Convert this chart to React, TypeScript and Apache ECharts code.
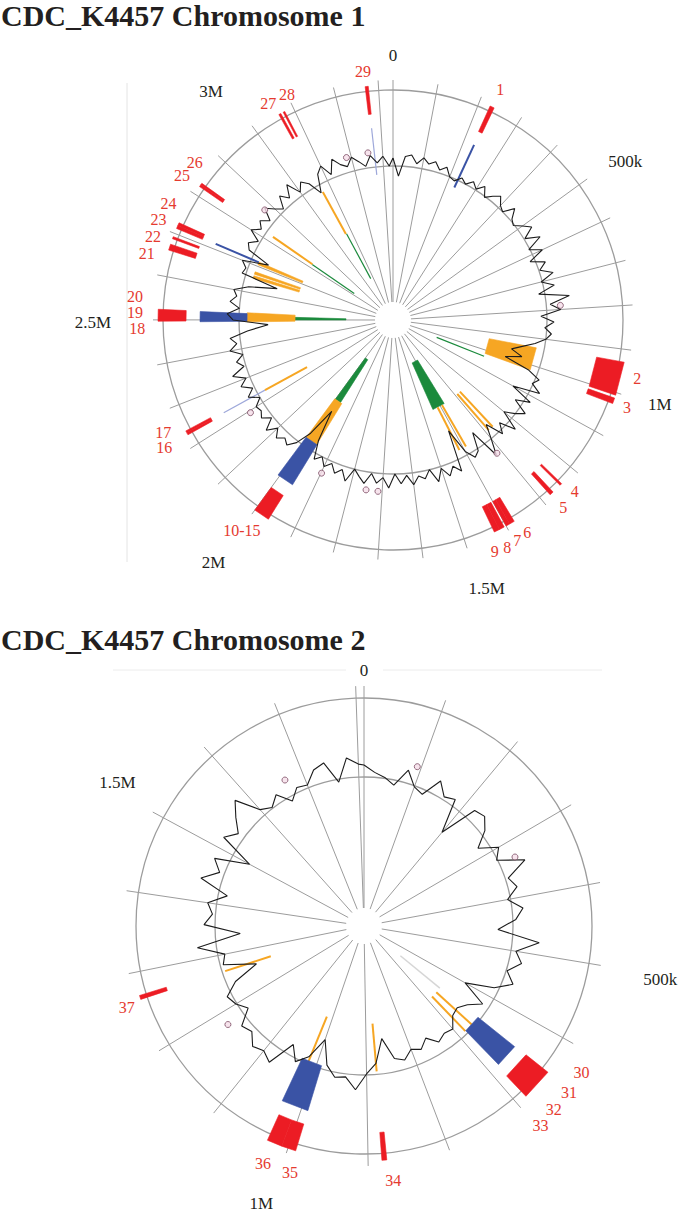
import React, { useEffect, useRef } from "react";
import * as echarts from "echarts";

// ---------------- data ----------------
const chr1LengthKb = 3333;
const chr2LengthKb = 1810;
const gcStepKb = 20;

const chr1Spokes = [0, 100, 200, 300, 400, 500, 600, 700, 800, 900, 1000, 1100, 1200, 1300, 1400, 1500, 1600, 1700, 1800, 1900, 2000, 2100, 2200, 2300, 2400, 2500, 2600, 2700, 2800, 2900, 3000, 3100, 3200, 3300];
const chr2Spokes = [0, 100, 200, 300, 400, 500, 600, 700, 800, 900, 1000, 1100, 1200, 1300, 1400, 1500, 1600, 1700, 1800];

const chr1TickLabels = ["0", "500k", "1M", "1.5M", "2M", "2.5M", "3M"];
const chr2TickLabels = ["0", "500k", "1M", "1.5M"];

// GC content deviation (px-scaled units) every 20 kb
const chr1Gc = [
  10, -8, 12, 14, 6, 13, 8, 12, 5, 10,
  2, 0, 6, 2, 8, 3, 10, 1, 7, 12,
  5, 2, 13, 4, 1, 8, 15, 3, 17, 1,
  13, -3, 11, 3, 15, 1, 13, -4, 26, 6,
  16, -4, 9, 0, 7, 2, -8, -20, -30, -18,
  -34, -8, 6, 1, 12, -15, 8, -6, 10, 2,
  -8, 12, -4, 6, -12, 2, 18, -14, 4, 8,
  -2, -28, 14, 6, 14, 4, 16, 2, 10, 6,
  14, 4, 12, 2, 16, 6, 12, 3, 14, 8,
  2, 16, 6, 12, 4, 10, 2, 8, -10, -42,
  -12, 4, 12, 8, 14, 6, 16, 4, 12, 8,
  10, 2, 12, 4, 14, 6, 18, 4, 10, 2,
  14, 6, 12, -6, -27, 8, 14, 2, 12, 6,
  10, -4, -32, 6, 4, 10, -16, 8, 12, 4,
  16, 8, 14, 6, 18, 10, 4, 16, 8, 20,
  6, 14, 8, -6, 12, 18, 6, 20, 12, 8,
  16, 10, 4, 14, 6, 12, 2,
];
const chr2Gc = [
  11, 4, 0, -6, 12, -2, -6, 14, 2, 6,
  -28, 10, 13, 4, -12, 6, -2, 24, 2, 8,
  -4, 10, 2, -16, 26, 4, 12, 0, 10, -6,
  -34, -8, -20, -26, -24, -14, -16, -12, -22, -14,
  -18, -10, -14, -36, -12, -2, 14, 2, 4, -6,
  -30, -8, 2, -12, 16, 10, 14, 4, 8, -8,
  0, 4, -10, -36, -4, -8, 18, -26, 10, 2,
  8, -10, 20, 4, 14, -20, 16, 6, 18, 30,
  6, 0, 8, -6, 4, 2, 14, 18, -4, 19,
  12,
];

const chr1MarkerPos = [787, 1315, 1713, 1750, 1898, 2194, 2876, 3185, 3254];
const chr1MarkerGc = [16, 17, 20, 20, 17, 18, 17, 17, 17];
const chr2MarkerPos = [93, 329, 1177, 1667];
const chr2MarkerGc = [18, 16, 18, 16];

// features [start kb, end kb]
const chr1Red: [number, number][] = [
  [226, 236], [929, 1006], [1013, 1026], [1242, 1247], [1269, 1278],
  [1379, 1391], [1391, 1400], [1405, 1417], [1417, 1430], [1963, 2000],
  [2229, 2234], [2234, 2239], [2497, 2524], [2660, 2674], [2687, 2692],
  [2712, 2719], [2719, 2726], [2820, 2825], [2825, 2829], [3064, 3069],
  [3075, 3079], [3270, 3277],
];
const chr1Blue: [number, number][] = [[1957, 2005], [2495, 2523]];
const chr1BlueThin = [230, 2715];
const chr1BlueFaint = [3274, 2234];
const chr1Orange: [number, number][] = [[935, 1018], [1958, 2004], [2493, 2526], [2706, 2716], [2669, 2678], [2653, 2663]];
const chr1OrangeThin = [1268, 1287, 1389, 1416, 2234, 2821, 3067];
const chr1Green: [number, number][] = [[1375, 1444], [1967, 2000], [2500, 2514]];
const chr1GreenThin = [1034, 2819, 3071];

const chr2Red: [number, number][] = [[646, 686], [877, 883], [990, 1008], [1008, 1027], [1266, 1271]];
const chr2Blue: [number, number][] = [[647, 683], [990, 1031]];
const chr2OrangeThin = [666, 684, 880, 1017, 1267];
const chr2GreenFaint = [650];

const chr1RedLabels = ["29", "1", "27", "28", "25", "26", "24", "23", "22", "21", "20", "19", "18", "17", "16", "10-15", "9", "8", "7", "6", "5", "4", "3", "2"];
const chr1RedLabelPos = [3269, 231, 3056, 3100, 2819, 2855, 2754, 2714, 2677, 2640, 2547, 2516, 2483, 2258, 2230, 1997, 1447, 1420, 1394, 1367, 1275, 1235, 1024, 957];
const chr2RedLabels = ["30", "31", "32", "33", "34", "35", "36", "37"];
const chr2RedLabelPos = [623, 649, 674, 696, 872, 989, 1021, 1262];

// ---------------- layout & style ----------------
const POLAR_R = 240;
const SPOKE_R: [number, number] = [18, 240];
const TRACK: Record<string, [number, number]> = {
  red: [207, 235],
  blue: [146, 193],
  orange: [98, 146],
  green: [47, 98],
};
const CHR1 = { center: [393, 320], rOuter: 230, rInner: 154, gcBase: 152 };
const CHR2 = { center: [364, 926], rOuter: 228, rInner: 149, gcBase: 150 };
const chr1TickAnchor = [[0, 265], [516, 281], [996, 280], [1488, 284], [2004, 302], [2496, 300], [2976, 292]];
const chr2TickAnchor = [[0, 256], [504, 301], [1007, 296], [1509, 285]];
const chr1RedLabelR = [250, 254, 250, 249, 256, 253, 253, 255, 254, 255, 259, 258, 256, 256, 262, 259, 253, 255, 253, 251, 253, 250, 250, 251];
const chr2RedLabelR = [262, 264, 264, 266, 256, 257, 258, 251];
const LABEL_FONT = 16;
const TICK_FONT = 17;

const C_RED = "#ec1c24";
const C_RED_TEXT = "#e53a2f";
const C_BLUE = "#3a53a5";
const C_BLUE_FAINT = "#9ea8da";
const C_ORANGE = "#f6a623";
const C_GREEN = "#1b8a3c";
const C_GRAY_FAINT = "#d6d6d6";
const C_GRID = "#9c9c9c";
const C_TEXT = "#231f20";
const SERIF = '"Liberation Serif", "Times New Roman", serif';

// ---------------- series builders ----------------
function circleSeries(pi: number, radii: number[]) {
  return {
    type: "custom", coordinateSystem: "polar", polarIndex: pi, clip: false, silent: true, z: 1,
    data: radii.map((r) => [r]),
    renderItem: (params: any, api: any) => {
      const r = api.value(0);
      const c = api.coord([0, 0]);
      const e = api.coord([r, 0]);
      return {
        type: "circle",
        shape: { cx: c[0], cy: c[1], r: Math.hypot(e[0] - c[0], e[1] - c[1]) },
        style: { fill: "none", stroke: C_GRID, lineWidth: 1.3 },
      };
    },
  };
}

function radialLineSeries(pi: number, positions: number[], range: [number, number], color: string, width: number, z: number) {
  return {
    type: "custom", coordinateSystem: "polar", polarIndex: pi, clip: false, silent: true, z,
    data: positions.map((p) => [p]),
    renderItem: (params: any, api: any) => {
      const p = api.value(0);
      const a = api.coord([range[0], p]);
      const b = api.coord([range[1], p]);
      return {
        type: "line",
        shape: { x1: a[0], y1: a[1], x2: b[0], y2: b[1] },
        style: { stroke: color, lineWidth: width },
      };
    },
  };
}

function blockSeries(pi: number, blocks: [number, number][], range: [number, number], color: string, z: number) {
  return {
    type: "custom", coordinateSystem: "polar", polarIndex: pi, clip: false, silent: true, z,
    data: blocks.map((b) => [b[0], b[1]]),
    renderItem: (params: any, api: any) => {
      const s = api.value(0);
      const e = api.value(1);
      const pts = [api.coord([range[0], s]), api.coord([range[1], s]), api.coord([range[1], e]), api.coord([range[0], e])];
      return { type: "polygon", shape: { points: pts }, style: { fill: color, stroke: color, lineWidth: 0.6 } };
    },
  };
}

function gcSeries(pi: number, values: number[], base: number, length: number) {
  const pts = values.map((v, i) => [base + v, i * gcStepKb]);
  pts.push([base + values[0], length]);
  return {
    type: "line", coordinateSystem: "polar", polarIndex: pi, data: pts, symbol: "none",
    silent: true, z: 6, clip: false,
    lineStyle: { color: "#1c1c1c", width: 1.1 },
  };
}

function markerSeries(pi: number, pos: number[], vals: number[], base: number) {
  return {
    type: "scatter", coordinateSystem: "polar", polarIndex: pi, silent: true, z: 7,
    data: pos.map((p, i) => [base + vals[i], p]),
    symbol: "circle", symbolSize: 6,
    itemStyle: { color: "#f5dde8", borderColor: "#7b4a62", borderWidth: 1 },
  };
}

function textSeries(pi: number, texts: string[], pos: number[], radii: number[], color: string, size: number) {
  return {
    type: "custom", coordinateSystem: "polar", polarIndex: pi, clip: false, silent: true, z: 8,
    data: pos.map((p, i) => [p, radii[i]]),
    renderItem: (params: any, api: any) => {
      const pt = api.coord([api.value(1), api.value(0)]);
      return {
        type: "text", x: pt[0], y: pt[1],
        style: { text: texts[params.dataIndex], fill: color, font: `${size}px ${SERIF}`, align: "center", verticalAlign: "middle" },
      };
    },
  };
}

function buildOption() {
  const chromosome = (pi: number, cfg: any, d: any) => [
    radialLineSeries(pi, d.spokes, SPOKE_R, C_GRID, 1, 1),
    circleSeries(pi, [cfg.rOuter, cfg.rInner]),
    ...(d.greenFaint ? [radialLineSeries(pi, d.greenFaint, TRACK.green, C_GRAY_FAINT, 1.5, 2)] : []),
    ...(d.green ? [blockSeries(pi, d.green, TRACK.green, C_GREEN, 2)] : []),
    ...(d.greenThin ? [radialLineSeries(pi, d.greenThin, TRACK.green, C_GREEN, 1.2, 2)] : []),
    ...(d.orange ? [blockSeries(pi, d.orange, TRACK.orange, C_ORANGE, 3)] : []),
    ...(d.orangeThin ? [radialLineSeries(pi, d.orangeThin, TRACK.orange, C_ORANGE, 2, 3)] : []),
    ...(d.blueFaint ? [radialLineSeries(pi, d.blueFaint, TRACK.blue, C_BLUE_FAINT, 1.2, 3)] : []),
    blockSeries(pi, d.blue, TRACK.blue, C_BLUE, 4),
    ...(d.blueThin ? [radialLineSeries(pi, d.blueThin, TRACK.blue, C_BLUE, 2, 4)] : []),
    blockSeries(pi, d.red, TRACK.red, C_RED, 4),
    gcSeries(pi, d.gc, cfg.gcBase, d.length),
    markerSeries(pi, d.markerPos, d.markerGc, cfg.gcBase),
    textSeries(pi, d.tickLabels, d.tickAnchor.map((a: number[]) => a[0]), d.tickAnchor.map((a: number[]) => a[1]), C_TEXT, TICK_FONT),
    textSeries(pi, d.redLabels, d.redLabelPos, d.redLabelR, C_RED_TEXT, LABEL_FONT),
  ];

  return {
    animation: false,
    backgroundColor: "#ffffff",
    polar: [
      { center: CHR1.center, radius: POLAR_R },
      { center: CHR2.center, radius: POLAR_R },
    ],
    angleAxis: [
      { polarIndex: 0, type: "value", min: 0, max: chr1LengthKb, startAngle: 90, clockwise: true, show: false },
      { polarIndex: 1, type: "value", min: 0, max: chr2LengthKb, startAngle: 90, clockwise: true, show: false },
    ],
    radiusAxis: [
      { polarIndex: 0, type: "value", min: 0, max: POLAR_R, show: false },
      { polarIndex: 1, type: "value", min: 0, max: POLAR_R, show: false },
    ],
    graphic: [
      { type: "text", x: 1, y: 15, style: { text: "CDC_K4457 Chromosome 1", font: `bold 30px ${SERIF}`, fill: C_TEXT, verticalAlign: "middle" } },
      { type: "text", x: 1, y: 639, style: { text: "CDC_K4457 Chromosome 2", font: `bold 30px ${SERIF}`, fill: C_TEXT, verticalAlign: "middle" } },
      { type: "line", shape: { x1: 127, y1: 83, x2: 127, y2: 562 }, style: { stroke: "#e4e4e4", lineWidth: 1 } },
      { type: "line", shape: { x1: 113, y1: 670, x2: 346, y2: 670 }, style: { stroke: "#ececec", lineWidth: 1 } },
      { type: "line", shape: { x1: 383, y1: 670, x2: 602, y2: 670 }, style: { stroke: "#ececec", lineWidth: 1 } },
    ],
    series: [
      ...chromosome(0, CHR1, {
        spokes: chr1Spokes, length: chr1LengthKb, gc: chr1Gc,
        red: chr1Red, blue: chr1Blue, blueThin: chr1BlueThin, blueFaint: chr1BlueFaint,
        orange: chr1Orange, orangeThin: chr1OrangeThin, green: chr1Green, greenThin: chr1GreenThin,
        markerPos: chr1MarkerPos, markerGc: chr1MarkerGc,
        tickLabels: chr1TickLabels, tickAnchor: chr1TickAnchor,
        redLabels: chr1RedLabels, redLabelPos: chr1RedLabelPos, redLabelR: chr1RedLabelR,
      }),
      ...chromosome(1, CHR2, {
        spokes: chr2Spokes, length: chr2LengthKb, gc: chr2Gc,
        red: chr2Red, blue: chr2Blue, orangeThin: chr2OrangeThin, greenFaint: chr2GreenFaint,
        markerPos: chr2MarkerPos, markerGc: chr2MarkerGc,
        tickLabels: chr2TickLabels, tickAnchor: chr2TickAnchor,
        redLabels: chr2RedLabels, redLabelPos: chr2RedLabelPos, redLabelR: chr2RedLabelR,
      }),
    ],
  };
}

export default function App() {
  const ref = useRef<HTMLDivElement>(null);
  useEffect(() => {
    if (!ref.current) return;
    const chart = echarts.init(ref.current, undefined, { renderer: "svg" });
    chart.setOption(buildOption() as any);
    return () => chart.dispose();
  }, []);
  return (
    <div
      ref={ref}
      style={{ position: "absolute", left: 0, top: 0, width: 680, height: 1215, background: "#fff" }}
    />
  );
}
